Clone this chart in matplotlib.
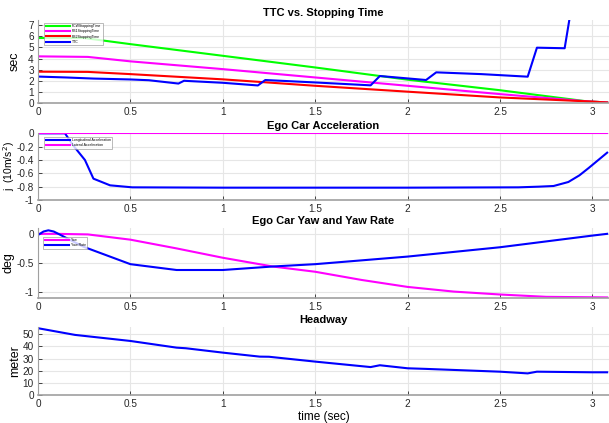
import numpy as np
import matplotlib.pyplot as plt

plt.rcParams['font.family'] = ['Liberation Sans', 'DejaVu Sans']

# --- TTC vs stopping time ---
fcw_t = [0, 0.25, 0.5, 1.0, 1.5, 2.0, 2.5, 2.97, 3.08]
fcw_v = [5.85, 5.85, 5.3, 4.25, 3.2, 2.1, 1.15, 0.15, 0.05]
pb1_t = [0, 0.27, 0.5, 1.0, 1.5, 2.0, 2.5, 2.97, 3.08]
pb1_v = [4.2, 4.15, 3.75, 3.05, 2.3, 1.55, 0.8, 0.15, 0.05]
pb2_t = [0, 0.27, 0.5, 1.0, 1.5, 2.0, 2.5, 2.97, 3.08]
pb2_v = [2.82, 2.8, 2.6, 2.13, 1.55, 1.02, 0.5, 0.15, 0.05]
ttc_t = [0, 0.15, 0.3, 0.5, 0.6, 0.76, 0.79, 1.0, 1.19, 1.23, 1.5, 1.80, 1.85,
         2.10, 2.155, 2.4, 2.65, 2.70, 2.85, 2.875]
ttc_v = [2.38, 2.3, 2.2, 2.12, 2.05, 1.75, 2.0, 1.82, 1.58, 2.07, 1.85, 1.59, 2.43,
         2.07, 2.76, 2.6, 2.37, 4.98, 4.93, 7.45]

# --- acceleration ---
acc_t = [0, 0.146, 0.19, 0.254, 0.30, 0.39, 0.51, 1.0, 2.0, 2.6, 2.71, 2.79,
         2.87, 2.93, 2.98, 3.08]
acc_v = [0, 0, -0.18, -0.4, -0.68, -0.78, -0.81, -0.815, -0.815, -0.81, -0.8,
         -0.79, -0.73, -0.63, -0.52, -0.29]
lat_t = [0, 3.08]
lat_v = [0, 0]

# --- yaw / yaw rate ---
yaw_t = [0, 0.1, 0.27, 0.5, 0.75, 1.0, 1.27, 1.5, 1.75, 2.0, 2.25, 2.5, 2.75, 3.08]
yaw_v = [0, 0, -0.01, -0.1, -0.25, -0.41, -0.56, -0.65, -0.79, -0.91, -0.99,
         -1.04, -1.08, -1.09]
rate_t = [0, 0.03, 0.056, 0.085, 0.11, 0.245, 0.5, 0.75, 1.0, 1.27, 1.5, 2.0,
          2.5, 3.0, 3.08]
rate_v = [-0.02, 0.04, 0.06, 0.04, 0, -0.22, -0.52, -0.62, -0.62, -0.56, -0.52,
          -0.39, -0.23, -0.03, 0.0]

# --- headway ---
hw_t = [0, 0.2, 0.5, 0.75, 0.8, 1.0, 1.2, 1.25, 1.5, 1.8, 1.85, 2.0, 2.1, 2.5,
        2.65, 2.7, 3.0, 3.08]
hw_v = [55, 49.5, 44.5, 39, 38.5, 34.9, 31.6, 31.5, 27.5, 23, 24.5, 22, 21.5,
        19.2, 17.8, 19.2, 18.7, 18.7]

xticks = [0, 0.5, 1, 1.5, 2, 2.5, 3]
xlabels = ['0', '0.5', '1', '1.5', '2', '2.5', '3']

fig = plt.figure(figsize=(6.09, 4.23), dpi=100)

W, H = 609, 423
def box(top, bottom):
    return [38 / W, 1 - bottom / H, 1 - 38 / W, (bottom - top) / H]

ax1 = fig.add_axes(box(19.7, 103))
ax2 = fig.add_axes(box(133, 200))
ax3 = fig.add_axes(box(228, 298))
ax4 = fig.add_axes(box(327, 395))

for ax in [ax1, ax2, ax3, ax4]:
    ax.set_xlim(0, 3.09)
    ax.set_xticks(xticks)
    ax.set_xticklabels(xlabels)
    ax.grid(True, color='#e6e6e6', lw=0.8)
    ax.set_axisbelow(True)
    ax.tick_params(direction='in', labelsize=7.2, colors='#262626', length=3,
                   width=0.6, pad=3)
    ax.spines['top'].set_visible(False)
    ax.spines['right'].set_visible(False)
    ax.spines['left'].set_color('#a0a0a0')
    ax.spines['bottom'].set_color('#a0a0a0')
    ax.spines['bottom'].set_linewidth(1.2)


def small_legend(ax, anchor):
    leg = ax.legend(loc='upper left', fontsize=2.5, handlelength=7, borderpad=0.4,
                    labelspacing=0.35, handletextpad=0.6, fancybox=False,
                    edgecolor='#888888', bbox_to_anchor=anchor)
    leg.get_frame().set_linewidth(0.5)


lw = 1.5
ax1.plot(fcw_t, fcw_v, color=(0, 1, 0), lw=lw, label='FCWStoppingTime')
ax1.plot(pb1_t, pb1_v, color=(1, 0, 1), lw=lw, label='PB1StoppingTime')
ax1.plot(pb2_t, pb2_v, color=(1, 0, 0), lw=lw, label='PB2StoppingTime')
ax1.plot(ttc_t, ttc_v, color=(0, 0, 1), lw=lw, label='TTC')
ax1.set_ylim(0, 7.5)
ax1.set_yticks(range(0, 8))
ax1.set_title('TTC vs. Stopping Time', fontsize=8, fontweight='bold', pad=3)
ax1.set_ylabel('sec', fontsize=9)
small_legend(ax1, (0.008, 0.985))

ax2.plot(acc_t, acc_v, color=(0, 0, 1), lw=lw, label='Longitudinal Acceleration')
ax2.plot(lat_t, lat_v, color=(1, 0, 1), lw=lw, label='Lateral Acceleration')
ax2.set_ylim(-1, 0.005)
ax2.set_yticks([0, -0.2, -0.4, -0.6, -0.8, -1])
ax2.set_yticklabels(['0', '-0.2', '-0.4', '-0.6', '-0.8', '-1'])
ax2.set_title('Ego Car Acceleration', fontsize=8, fontweight='bold', pad=3)
ax2.set_ylabel('j  (10m/s$^2$)', fontsize=7.5)
small_legend(ax2, (0.008, 0.97))

ax3.plot(yaw_t, yaw_v, color=(1, 0, 1), lw=lw, label='Yaw')
ax3.plot(rate_t, rate_v, color=(0, 0, 1), lw=lw, label='Yaw Rate')
ax3.set_ylim(-1.1, 0.1)
ax3.set_yticks([0, -0.5, -1])
ax3.set_yticklabels(['0', '-0.5', '-1'])
ax3.set_title('Ego Car Yaw and Yaw Rate', fontsize=8, fontweight='bold', pad=3)
ax3.set_ylabel('deg', fontsize=9)
small_legend(ax3, (0.006, 0.9))

ax4.plot(hw_t, hw_v, color=(0, 0, 1), lw=lw)
ax4.set_ylim(0, 56)
ax4.set_yticks([0, 10, 20, 30, 40, 50])
ax4.set_title('Headway', fontsize=8, fontweight='bold', pad=3)
ax4.set_ylabel('meter', fontsize=9)
ax4.set_xlabel('time (sec)', fontsize=8.5, labelpad=1)

# y labels sit at a fixed distance from the axes, like the original
ax1.yaxis.set_label_coords(-0.03, 0.5)
ax2.yaxis.set_label_coords(-0.036, 0.5)
ax3.yaxis.set_label_coords(-0.042, 0.5)
ax4.yaxis.set_label_coords(-0.03, 0.5)

fig.savefig('out.png', dpi=100)
